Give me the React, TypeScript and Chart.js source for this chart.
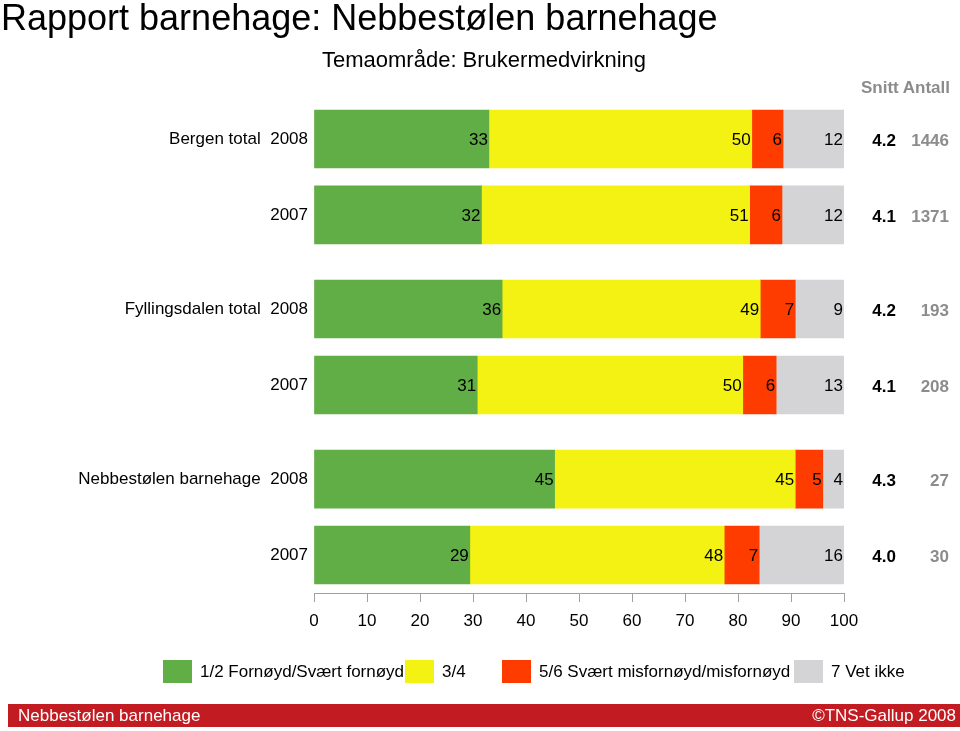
import React, { useEffect, useRef } from "react";
import { Chart, registerables } from "chart.js";

Chart.register(...registerables);

const FONT = '"Liberation Sans", Arial, Helvetica, sans-serif';

const TITLE = "Rapport barnehage: Nebbestølen barnehage";
const SUBTITLE = "Temaområde: Brukermedvirkning";
const FOOTER_LEFT = "Nebbestølen barnehage";
const FOOTER_RIGHT = "©TNS-Gallup 2008";
const HEADERS = ["Snitt", "Antall"];

const groups = ["Bergen total", "Fyllingsdalen total", "Nebbestølen barnehage"];
const years = ["2008", "2007"];

// percentage per row (Bergen 2008, 2007, Fyllingsdalen 2008, 2007, Nebbestølen 2008, 2007)
const fornoyd = [33.0, 31.6, 35.5, 30.8, 45.4, 29.4];
const middels = [49.6, 50.6, 48.7, 50.1, 45.4, 48.0];
const misfornoyd = [5.9, 6.1, 6.6, 6.3, 5.2, 6.6];
const vetIkke = [11.5, 11.7, 9.2, 12.8, 4.0, 16.0];

const snitt = ["4.2", "4.1", "4.2", "4.1", "4.3", "4.0"];
const antall = ["1446", "1371", "193", "208", "27", "30"];

const seriesNames = [
  "1/2 Fornøyd/Svært fornøyd",
  "3/4",
  "5/6 Svært misfornøyd/misfornøyd",
  "7 Vet ikke",
];
const seriesColors = ["#62ae46", "#f4f212", "#fe3c00", "#d4d4d6"];
const seriesValues = [fornoyd, middels, misfornoyd, vetIkke];

const xTickValues = [0, 10, 20, 30, 40, 50, 60, 70, 80, 90, 100];

// layout constants
const GROUP_STEP = 2.24;
const LEGEND_X = [163, 405, 502, 794];

const rowPos = groups.flatMap((_, gi) => years.map((_, yi) => gi * GROUP_STEP + yi));
const rowLabels = groups.flatMap((g) => years.map((y, yi) => (yi === 0 ? `${g}  ${y}` : y)));

const valueLabels = {
  id: "valueLabels",
  afterDatasetsDraw(chart: any) {
    const ctx = chart.ctx;
    ctx.save();
    ctx.font = `17px ${FONT}`;
    ctx.fillStyle = "#000";
    ctx.textAlign = "right";
    ctx.textBaseline = "middle";
    chart.data.datasets.forEach((_: any, di: number) => {
      const meta = chart.getDatasetMeta(di);
      meta.data.forEach((el: any, i: number) => {
        const v = seriesValues[di][i];
        ctx.fillText(String(Math.round(v)), el.x - 1, el.y + 1);
      });
    });
    ctx.restore();
  },
};

const decor = {
  id: "decor",
  afterDraw(chart: any) {
    const ctx = chart.ctx;
    const ys = chart.scales.y;
    ctx.save();
    // title & subtitle
    ctx.fillStyle = "#000";
    ctx.textAlign = "left";
    ctx.textBaseline = "alphabetic";
    ctx.font = `36px ${FONT}`;
    ctx.fillText(TITLE, 1, 30);
    ctx.font = `22px ${FONT}`;
    ctx.fillText(SUBTITLE, 322, 67);

    // side columns
    ctx.textBaseline = "middle";
    ctx.font = `bold 17px ${FONT}`;
    ctx.fillStyle = "#8c8c8c";
    ctx.textAlign = "left";
    ctx.fillText(HEADERS[0], 861, 88);
    ctx.textAlign = "right";
    ctx.fillText(HEADERS[1], 950, 88);
    rowPos.forEach((p, i) => {
      const y = ys.getPixelForValue(p) + 2;
      ctx.fillStyle = "#000";
      ctx.fillText(snitt[i], 896, y);
      ctx.fillStyle = "#8c8c8c";
      ctx.fillText(antall[i], 949, y);
    });

    // legend
    ctx.textAlign = "left";
    ctx.font = `17px ${FONT}`;
    seriesNames.forEach((name, i) => {
      const x = LEGEND_X[i];
      ctx.fillStyle = seriesColors[i];
      ctx.fillRect(x, 660, 29, 23);
      ctx.fillStyle = "#000";
      ctx.fillText(name, x + 37, 672);
    });

    // footer
    ctx.fillStyle = "#c21b21";
    ctx.fillRect(8, 704, 952, 23);
    ctx.fillStyle = "#fff";
    ctx.font = `17px ${FONT}`;
    ctx.textAlign = "left";
    ctx.fillText(FOOTER_LEFT, 18, 716);
    ctx.textAlign = "right";
    ctx.fillText(FOOTER_RIGHT, 956, 716);
    ctx.restore();
  },
};

export default function App() {
  const ref = useRef<HTMLCanvasElement>(null);
  useEffect(() => {
    if (!ref.current) return;
    const chart = new Chart(ref.current, {
      type: "bar",
      data: {
        datasets: seriesNames.map((name, si) => ({
          label: name,
          data: seriesValues[si].map((v, i) => ({ x: v, y: rowPos[i] })),
          backgroundColor: seriesColors[si],
          borderWidth: 0,
          barThickness: 58,
        })),
      },
      options: {
        indexAxis: "y",
        responsive: false,
        animation: false,
        layout: { padding: { top: 101, right: 116, bottom: 98, left: 0 } },
        plugins: {
          legend: { display: false },
          tooltip: { enabled: false },
          title: { display: false },
        },
        scales: {
          x: {
            type: "linear",
            stacked: true,
            min: 0,
            max: 100,
            offset: false,
            afterBuildTicks: (scale: any) => {
              scale.ticks = xTickValues.map((v) => ({ value: v }));
            },
            afterFit: (scale: any) => {
              scale.height = 40;
            },
            grid: {
              drawOnChartArea: false,
              drawTicks: true,
              tickLength: 9,
              color: "#a0a0a0",
              offset: false,
            },
            border: { display: true, color: "#a0a0a0" },
            ticks: {
              color: "#000",
              font: { family: FONT, size: 17 },
              padding: 9,
              maxRotation: 0,
              autoSkip: false,
            },
          },
          y: {
            type: "linear",
            stacked: true,
            reverse: true,
            offset: false,
            min: -0.5,
            max: 2 * GROUP_STEP + 1.5,
            afterBuildTicks: (scale: any) => {
              scale.ticks = rowPos.map((v) => ({ value: v }));
            },
            afterFit: (scale: any) => {
              scale.width = 314;
            },
            grid: { display: false, drawTicks: false, offset: false },
            border: { display: false },
            ticks: {
              color: "#000",
              font: { family: FONT, size: 17 },
              padding: 6,
              autoSkip: false,
              callback: (_v: any, i: number) => rowLabels[i],
            },
          },
        },
      } as any,
      plugins: [valueLabels, decor],
    });
    return () => chart.destroy();
  }, []);
  return (
    <div style={{ position: "absolute", left: 0, top: 0, width: 960, height: 731, background: "#fff" }}>
      <canvas ref={ref} width={960} height={731} style={{ display: "block" }} />
    </div>
  );
}
